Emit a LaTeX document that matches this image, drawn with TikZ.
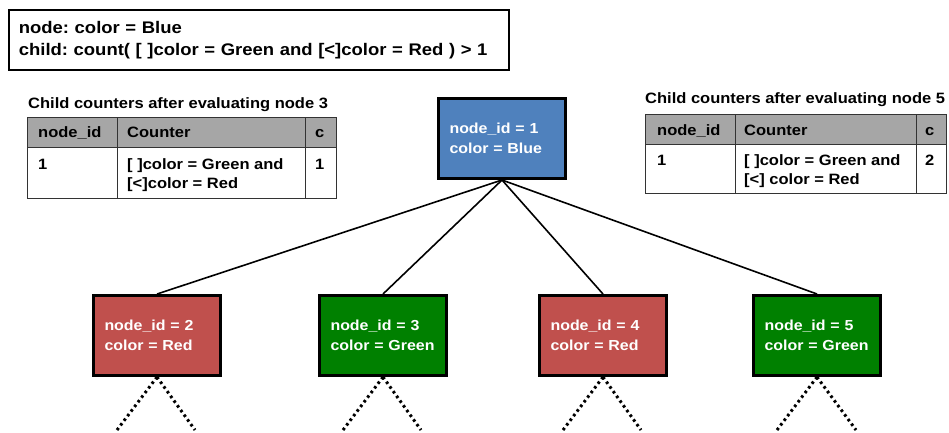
\documentclass[tikz,border=0pt]{standalone}
\usepackage{fontspec}
\setmainfont[FakeStretch=1.1]{Liberation Sans}
\begin{document}
\frenchspacing
\begin{tikzpicture}[x=1pt,y=-1pt,
  every node/.style={font=\bfseries},
  treenode/.style={draw=black, line width=3pt, minimum width=127pt, minimum height=80pt,
    text width=105pt, inner xsep=11pt, align=left, text=white, anchor=north west,
    font=\bfseries\fontsize{14.5}{20}\selectfont},
  edge/.style={line width=1.6pt, black},
  leaf/.style={line width=3pt, dash pattern=on 2.6pt off 3.2pt, black},
  grid/.style={draw=black!80, line width=0.9pt},
  head/.style={fill=black!35},
  cell/.style={anchor=base west, inner sep=0pt, align=left, font=\bfseries\fontsize{15}{19}\selectfont},
  caption/.style={anchor=base west, inner sep=0pt, font=\bfseries\fontsize{15}{19}\selectfont}]
\definecolor{nodeblue}{HTML}{4F81BD}
\definecolor{nodered}{HTML}{C0504D}
\definecolor{nodegreen}{HTML}{008000}
\useasboundingbox (0,0) rectangle (949,432);

% query box
\node[draw=black, line width=1.6pt, anchor=north west, minimum width=500pt, minimum height=60pt,
  text width=480pt, inner xsep=10pt, align=left, font=\bfseries\fontsize{16.8}{22}\selectfont]
  (query) at (8,9) {node: color = Blue\\child: count( [ ]color = Green and [<]color = Red ) > 1};

% tree
\node[treenode, fill=nodeblue] (root) at (437,97) {node\_id = 1\\color = Blue};
\node[treenode, fill=nodered] (n2) at (92,294) {node\_id = 2\\color = Red};
\node[treenode, fill=nodegreen] (n3) at (318,294) {node\_id = 3\\color = Green};
\node[treenode, fill=nodered] (n4) at (538,294) {node\_id = 4\\color = Red};
\node[treenode, fill=nodegreen] (n5) at (752,294) {node\_id = 5\\color = Green};

\foreach \c in {n2,n3,n4,n5} \draw[edge] (root.south) -- (\c.north);

\coordinate (l2a) at (117,430); \coordinate (l2b) at (195,430);
\coordinate (l3a) at (343,430); \coordinate (l3b) at (421,430);
\coordinate (l4a) at (563,430); \coordinate (l4b) at (641,430);
\coordinate (l5a) at (777,430); \coordinate (l5b) at (856,430);
\foreach \c/\a/\b in {n2/l2a/l2b, n3/l3a/l3b, n4/l4a/l4b, n5/l5a/l5b} {
  \draw[leaf] (\c.south) -- (\a);
  \draw[leaf] (\c.south) -- (\b);
}

% left counter table
\node[caption] (capL) at (28,108) {Child counters after evaluating node 3};
\fill[head] (27,117) rectangle (336,147);
\draw[grid] (27,117) rectangle (336,198);
\draw[grid] (27,147) -- (336,147);
\draw[grid] (117,117) -- (117,198);
\draw[grid] (305,117) -- (305,198);
\node[cell] (hL1) at (38,137) {node\_id};
\node[cell] (hL2) at (127,137) {Counter};
\node[cell] (hL3) at (315,137) {c};
\node[cell] (bL1) at (38,169) {1};
\node[cell] (bL2) at (127,188) {[ ]color = Green and\\{}[<]color = Red};
\node[cell] (bL3) at (315,169) {1};

% right counter table
\node[caption] (capR) at (645,103) {Child counters after evaluating node 5};
\fill[head] (645,114) rectangle (946,144);
\draw[grid] (645,114) rectangle (946,193);
\draw[grid] (645,144) -- (946,144);
\draw[grid] (735,114) -- (735,193);
\draw[grid] (916,114) -- (916,193);
\node[cell] (hR1) at (657,135) {node\_id};
\node[cell] (hR2) at (744,135) {Counter};
\node[cell] (hR3) at (925,135) {c};
\node[cell] (bR1) at (657,165) {1};
\node[cell] (bR2) at (744,184) {[ ]color = Green and\\{}[<] color = Red};
\node[cell] (bR3) at (925,165) {2};
\end{tikzpicture}
\end{document}
